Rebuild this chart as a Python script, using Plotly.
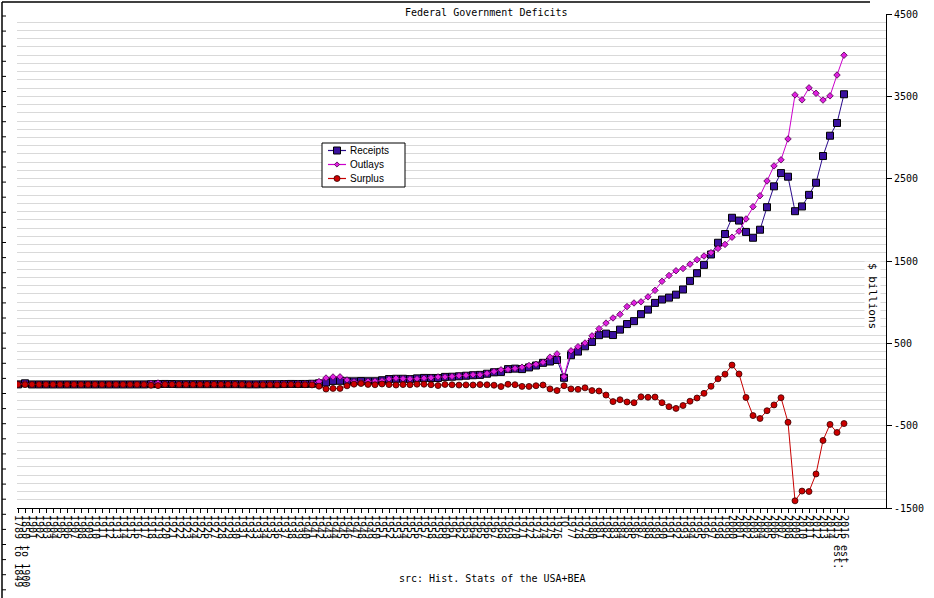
import plotly.graph_objects as go
import numpy as np

categories = (["1789 to 1849", "1850 to 1900"]
              + [str(y) for y in range(1901, 1977)]
              + ["TQ"]
              + [str(y) for y in range(1977, 2015)]
              + ["2015 est.", "2016 est."])

receipts = [1.2, 14.5,
            0.6, 0.6, 0.6, 0.5, 0.5, 0.6, 0.7, 0.6, 0.6, 0.7, 0.7, 0.7, 0.7, 0.7, 0.7, 0.8,
            1.1, 3.6, 5.1, 6.6, 5.6, 4.0, 3.9, 3.9, 3.6, 3.8, 4.0, 3.9, 3.9, 4.1,
            3.1, 1.9, 2.0, 3.0, 3.6, 3.9, 5.4, 6.8, 6.3, 6.5, 8.7,
            14.6, 24.0, 43.7, 45.2, 39.3, 38.5, 41.6, 39.4, 39.4,
            51.6, 66.2, 69.6, 69.7, 65.5, 74.6, 80.0, 79.6, 79.2, 92.5,
            94.4, 99.7, 106.6, 112.6, 116.8, 130.8, 148.8, 153.0, 186.9, 192.8,
            187.1, 207.3, 230.8, 263.2, 279.1, 298.1,
            81.2,
            355.6, 399.6, 463.3, 517.1, 599.3, 617.8, 600.6, 666.4, 734.0, 769.2,
            854.3, 909.2, 991.1, 1032.0, 1055.0, 1091.2, 1154.3, 1258.6, 1351.8, 1453.1,
            1579.2, 1721.7, 1827.5, 2025.2, 1991.1, 1853.1, 1782.3, 1880.1, 2153.6, 2406.9,
            2568.0, 2524.0, 2105.0, 2162.7, 2303.5, 2450.2, 2775.1, 3021.5, 3176.1, 3525.2]

outlays = [1.1, 15.5,
           0.5, 0.5, 0.5, 0.6, 0.6, 0.6, 0.6, 0.7, 0.7, 0.7, 0.7, 0.7, 0.7, 0.7, 0.7, 0.7,
           2.0, 12.7, 18.5, 6.4, 5.1, 3.3, 3.1, 2.9, 2.9, 2.9, 2.9, 3.0, 3.1, 3.3,
           3.6, 4.7, 4.6, 6.5, 6.4, 8.2, 7.6, 6.8, 9.1, 9.5, 13.7,
           35.1, 78.6, 91.3, 92.7, 55.2, 34.5, 29.8, 38.8, 42.6,
           45.5, 67.7, 76.1, 70.9, 68.4, 70.6, 76.6, 82.4, 92.1, 92.2,
           97.7, 106.8, 111.3, 118.5, 118.2, 134.5, 157.5, 178.1, 183.6, 195.6,
           210.2, 230.7, 245.7, 269.4, 332.3, 371.8,
           96.0,
           409.2, 458.7, 504.0, 590.9, 678.2, 745.7, 808.4, 851.8, 946.3, 990.4,
           1004.0, 1064.4, 1143.7, 1253.0, 1324.2, 1381.5, 1409.4, 1461.8, 1515.7, 1560.5,
           1601.1, 1652.5, 1701.8, 1789.0, 1862.8, 2010.9, 2159.9, 2292.8, 2472.0, 2655.1,
           2728.7, 2982.5, 3517.7, 3457.1, 3603.1, 3537.0, 3454.6, 3506.1, 3758.6, 3999.5]

surplus = [0.1, -1.0,
           0.1, 0.1, 0.0, -0.0, -0.0, 0.0, 0.1, -0.1, -0.1, -0.0, 0.0, 0.0, -0.0, -0.0, -0.1, 0.0,
           -0.9, -9.0, -13.4, 0.3, 0.5, 0.7, 0.7, 1.0, 0.7, 0.9, 1.2, 0.9, 0.7, 0.7,
           -0.5, -2.7, -2.6, -3.6, -2.8, -4.3, -2.2, -0.1, -2.8, -2.9, -4.9,
           -20.5, -54.6, -47.6, -47.6, -15.9, 4.0, 11.8, 0.6, -3.1,
           6.1, -1.5, -6.5, -1.2, -3.0, 3.9, 3.4, -2.8, -12.8, 0.3,
           -3.3, -7.1, -4.8, -5.9, -1.4, -3.7, -8.6, -25.2, 3.2, -2.8,
           -23.0, -23.4, -14.9, -6.1, -53.2, -73.7,
           -14.7,
           -53.7, -59.2, -40.7, -73.8, -79.0, -128.0, -207.8, -185.4, -212.3, -221.2,
           -149.7, -155.2, -152.6, -221.0, -269.2, -290.3, -255.1, -203.2, -164.0, -107.4,
           -21.9, 69.3, 125.6, 236.2, 128.2, -157.8, -377.6, -412.7, -318.3, -248.2,
           -160.7, -458.6, -1412.7, -1294.4, -1299.6, -1086.8, -679.5, -484.6, -582.5, -474.3]

series_names = ["Receipts", "Outlays", "Surplus"]

y_tick_vals = [-1500, -500, 500, 1500, 2500, 3500, 4500]
y_tick_text = ["-1500", "-500", "500", "1500", "2500", "3500", "4500"]

MONO = "DejaVu Sans Mono"

REC_LINE, REC_FILL = "#2a0a8c", "#3a109e"
OUT_LINE, OUT_FILL, OUT_EDGE = "#cc00cc", "#e020e0", "#440044"
SUR_LINE, SUR_FILL = "#c80000", "#cc0000"

fig = go.Figure()
fig.add_trace(go.Scatter(
    x=categories, y=receipts, name=series_names[0], mode="lines+markers",
    line=dict(color=REC_LINE, width=1),
    marker=dict(symbol="square", size=7, color=REC_FILL,
                line=dict(color="#000000", width=1))))
fig.add_trace(go.Scatter(
    x=categories, y=outlays, name=series_names[1], mode="lines+markers",
    line=dict(color=OUT_LINE, width=1),
    marker=dict(symbol="diamond", size=5, color=OUT_FILL,
                line=dict(color=OUT_EDGE, width=0.8))))
fig.add_trace(go.Scatter(
    x=categories, y=surplus, name=series_names[2], mode="lines+markers",
    line=dict(color=SUR_LINE, width=1),
    marker=dict(symbol="circle", size=6, color=SUR_FILL,
                line=dict(color="#330000", width=0.8))))

# plot area in pixels
L, R, T, B = 17, 886, 14, 508
W, H = 934, 598
pw, ph = R - L, B - T


def px_x(px):
    return (px - L) / pw


def px_y(py):
    return (B - py) / ph


shapes = []
# outer frame lines (top and left) with ruler ticks on the left
shapes.append(dict(type="line", xref="paper", yref="paper",
                   x0=px_x(2), x1=px_x(870), y0=px_y(2), y1=px_y(2),
                   line=dict(color="black", width=1.5)))
shapes.append(dict(type="line", xref="paper", yref="paper",
                   x0=px_x(2), x1=px_x(2), y0=px_y(2), y1=px_y(598),
                   line=dict(color="black", width=1.5)))
for ty in np.arange(16, 596, 15.1):
    shapes.append(dict(type="line", xref="paper", yref="paper",
                       x0=px_x(2), x1=px_x(6), y0=px_y(ty), y1=px_y(ty),
                       line=dict(color="black", width=1)))

# custom compact legend (box, line samples, symbols)
LG_X0, LG_X1, LG_Y0, LG_Y1 = 322, 405, 143, 187
shapes.append(dict(type="rect", xref="paper", yref="paper",
                   x0=px_x(LG_X0), x1=px_x(LG_X1), y0=px_y(LG_Y0), y1=px_y(LG_Y1),
                   fillcolor="white", line=dict(color="black", width=1)))
legend_rows = [150.5, 164.5, 178.5]
legend_lines = [REC_LINE, OUT_LINE, SUR_LINE]
for ry, lc in zip(legend_rows, legend_lines):
    shapes.append(dict(type="line", xref="paper", yref="paper",
                       x0=px_x(328), x1=px_x(346), y0=px_y(ry), y1=px_y(ry),
                       line=dict(color=lc, width=1.2)))
cx = 337
# square
ry = legend_rows[0]
shapes.append(dict(type="rect", xref="paper", yref="paper",
                   x0=px_x(cx - 3.5), x1=px_x(cx + 3.5), y0=px_y(ry - 3.5), y1=px_y(ry + 3.5),
                   fillcolor=REC_FILL, line=dict(color="black", width=1)))
# diamond
ry = legend_rows[1]
d = 2.6
path = "M {} {} L {} {} L {} {} L {} {} Z".format(
    px_x(cx), px_y(ry - d), px_x(cx + d), px_y(ry),
    px_x(cx), px_y(ry + d), px_x(cx - d), px_y(ry))
shapes.append(dict(type="path", xref="paper", yref="paper", path=path,
                   fillcolor=OUT_FILL, line=dict(color=OUT_EDGE, width=0.8)))
# circle
ry = legend_rows[2]
shapes.append(dict(type="circle", xref="paper", yref="paper",
                   x0=px_x(cx - 3), x1=px_x(cx + 3), y0=px_y(ry - 3), y1=px_y(ry + 3),
                   fillcolor=SUR_FILL, line=dict(color="#330000", width=0.8)))

annotations = [
    dict(text="Federal Government Deficits", xref="paper", yref="paper",
         x=px_x(487), y=px_y(12), xanchor="center", yanchor="middle",
         showarrow=False, font=dict(family=MONO, size=10, color="black")),
    dict(text="src: Hist. Stats of the USA+BEA", xref="paper", yref="paper",
         x=px_x(492), y=px_y(578), xanchor="center", yanchor="middle",
         showarrow=False, font=dict(family=MONO, size=10, color="black")),
    dict(text="$ billions", xref="paper", yref="paper",
         x=px_x(873), y=px_y(296), xanchor="center", yanchor="middle",
         textangle=90, showarrow=False, bgcolor="white",
         font=dict(family=MONO, size=11, color="black")),
]
for ry, nm in zip(legend_rows, series_names):
    annotations.append(dict(text=nm, xref="paper", yref="paper",
                            x=px_x(349), y=px_y(ry), xanchor="left", yanchor="middle",
                            showarrow=False, borderpad=0,
                            font=dict(family="Liberation Sans", size=10, color="black")))

fig.update_layout(
    width=W, height=H,
    margin=dict(l=L, r=W - R, t=T, b=H - B, pad=0, autoexpand=False),
    paper_bgcolor="white", plot_bgcolor="white",
    showlegend=False,
    hovermode=False,
    shapes=shapes,
    annotations=annotations,
    xaxis=dict(type="category", categoryorder="array", categoryarray=categories,
               range=[-0.143, 124], showgrid=False, zeroline=False,
               showline=True, linecolor="black", linewidth=1,
               ticks="outside", ticklen=4, tickcolor="black", tickwidth=1,
               tickmode="array", tickvals=categories, ticktext=categories,
               tickangle=90, automargin=False,
               tickfont=dict(family=MONO, size=10, color="black")),
    yaxis=dict(range=[-1500, 4500], side="right",
               tickmode="array", tickvals=y_tick_vals, ticktext=y_tick_text,
               showline=True, linecolor="black", linewidth=1,
               ticks="outside", ticklen=5, tickcolor="black",
               showgrid=True, gridcolor="#d9d9d9", gridwidth=1,
               zeroline=False, automargin=False,
               minor=dict(tickmode="linear", tick0=-1500, dtick=100,
                          showgrid=True, gridcolor="#d9d9d9", gridwidth=1, ticks=""),
               tickfont=dict(family=MONO, size=10, color="black")),
)

fig.write_html(
    "out.html",
    config={"displayModeBar": False},
    post_script="document.body.style.margin='0';"
                "document.body.style.overflow='hidden';"
                "document.documentElement.style.overflow='hidden';",
)
